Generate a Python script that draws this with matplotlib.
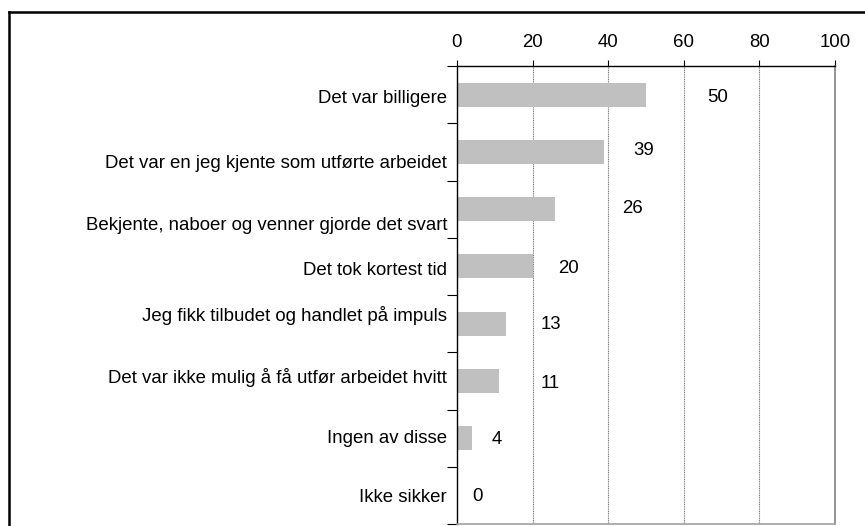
import matplotlib.pyplot as plt
from matplotlib.lines import Line2D
import matplotlib.transforms as mtransforms
import numpy as np

# Data
categories = [
    "Det var billigere",
    "Det var en jeg kjente som utførte arbeidet",
    "Bekjente, naboer og venner gjorde det svart",
    "Det tok kortest tid",
    "Jeg fikk tilbudet og handlet på impuls",
    "Det var ikke mulig å få utfør arbeidet hvitt",
    "Ingen av disse",
    "Ikke sikker",
]
values = [50, 39, 26, 20, 13, 11, 4, 0]
value_labels = ["50", "39", "26", "20", "13", "11", "4", "0"]
xticks = [0, 20, 40, 60, 80, 100]

# where the value labels sit (x in data units, y offset in slots)
label_x = [69, 49.5, 46.3, 29.4, 24.9, 24.6, 10.6, 5.5]
label_dy = [0.05, -0.03, -0.01, 0.03, 0.02, 0.05, 0.02, 0.02]
# category labels are not exactly centred on their bars in the original
cat_dy = [0.03, 0.16, 0.25, 0.03, -0.18, -0.1, -0.02, 0.0]

plt.rcParams['font.family'] = ['Liberation Sans', 'DejaVu Sans']
FS = 13.4

fig = plt.figure(figsize=(8.65, 5.26), dpi=100)
ax = fig.add_axes([457 / 865, 1 - 524 / 526, (835 - 457) / 865, (524 - 66) / 526])

y = np.arange(len(categories))
ax.barh(y, values, height=0.42, color='#c0c0c0', edgecolor='none', zorder=2)

for i, (lx, txt) in enumerate(zip(label_x, value_labels)):
    ax.text(lx, y[i] + label_dy[i], txt, ha='center', va='center', fontsize=FS, color='black')

# category labels, right aligned 10 px left of the axis
trans = mtransforms.blended_transform_factory(ax.transAxes, ax.transData) + \
    mtransforms.ScaledTranslation(-10 / 100, 0, fig.dpi_scale_trans)
for i, cat in enumerate(categories):
    ax.text(0, y[i] + cat_dy[i], cat, transform=trans, ha='right', va='center_baseline',
            fontsize=FS, color='black')

ax.set_xlim(0, 100)
ax.set_ylim(len(categories) - 0.5, -0.5)

# x axis on top
ax.xaxis.tick_top()
ax.set_xticks(xticks)
ax.set_xticklabels([str(t) for t in xticks], fontsize=FS)
ax.tick_params(axis='x', direction='out', length=4, width=0.8, pad=7, color='black')

# tick marks at slot boundaries only
ax.set_yticks([])
ax.set_yticks(np.arange(len(categories) + 1) - 0.5, minor=True)
ax.tick_params(axis='y', which='minor', direction='out', length=7, width=0.8, color='black')

# vertical gridlines
for t in xticks[1:-1]:
    ax.axvline(t, color='#808080', linewidth=0.8, linestyle=(0, (1, 0.6)), zorder=1)

ax.spines['left'].set_color('black')
ax.spines['left'].set_linewidth(1.0)
ax.spines['top'].set_color('black')
ax.spines['top'].set_linewidth(1.0)
ax.spines['right'].set_color('#808080')
ax.spines['right'].set_linewidth(1.2)
ax.spines['bottom'].set_color('#a0a0a0')
ax.spines['bottom'].set_linewidth(1.2)

# outer frame (left and top edges visible)
fig.add_artist(Line2D([8.5 / 865, 8.5 / 865], [0, 1 - 12 / 526], transform=fig.transFigure,
                      color='black', linewidth=1.8))
fig.add_artist(Line2D([8.5 / 865, 1], [1 - 12 / 526, 1 - 12 / 526], transform=fig.transFigure,
                      color='black', linewidth=1.8))

fig.savefig('out.png', dpi=100)
